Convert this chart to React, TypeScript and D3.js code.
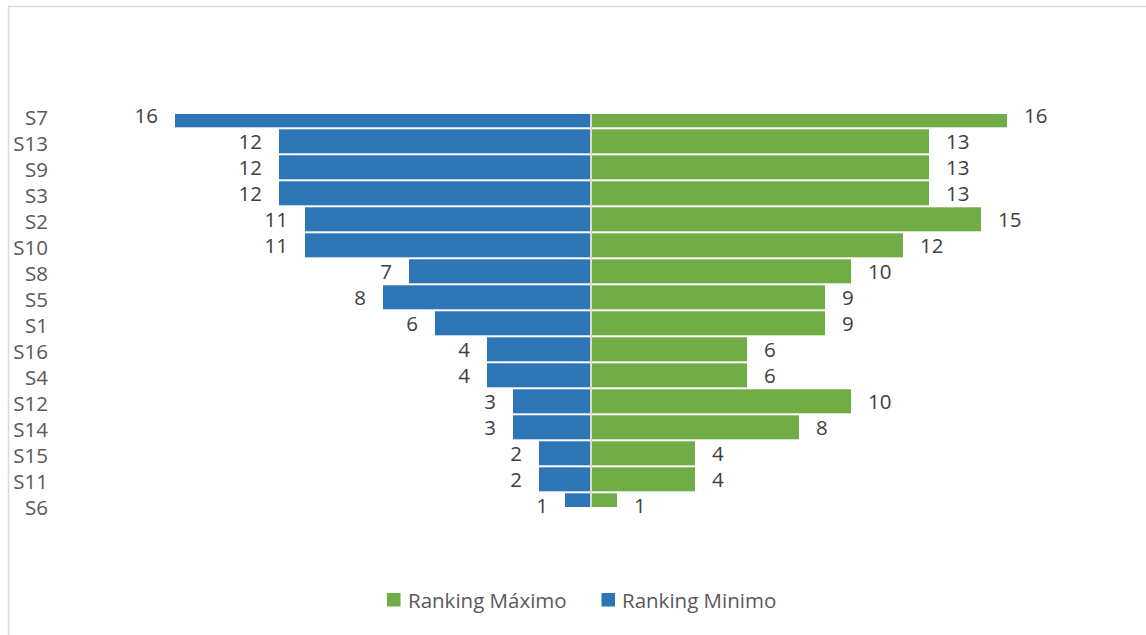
import React from "react";
import * as d3 from "d3";

const categories = ["S7", "S13", "S9", "S3", "S2", "S10", "S8", "S5", "S1", "S16", "S4", "S12", "S14", "S15", "S11", "S6"];
const rankingMinimo = [16, 12, 12, 12, 11, 11, 7, 8, 6, 4, 4, 3, 3, 2, 2, 1];
const rankingMaximo = [16, 13, 13, 13, 15, 12, 10, 9, 9, 6, 6, 10, 8, 4, 4, 1];
const legendLabels = ["Ranking Máximo", "Ranking Minimo"];

const W = 1146;
const H = 635;
const BLUE = "#2E75B6";
const GREEN = "#70AD47";
const FONT = "'Open Sans', sans-serif";

export default function App() {
  const x = d3.scaleLinear().domain([-16, 16]).range([175, 1007]);
  const y = d3
    .scaleBand<string>()
    .domain(categories)
    .range([102.3, 518.3])
    .paddingInner(2 / 26)
    .paddingOuter(1 / 26);
  const bw = y.bandwidth();
  const clipTop = 114;
  const clipBottom = 507;

  return (
    <svg
      width={W}
      height={H}
      style={{ position: "absolute", left: 0, top: 0, background: "#fff" }}
    >
      <defs>
        <clipPath id="plotClip">
          <rect x={0} y={clipTop} width={W} height={clipBottom - clipTop} />
        </clipPath>
      </defs>
      <rect x={8.5} y={6.5} width={W + 20} height={H + 20} fill="#fff" stroke="#d9d9d9" strokeWidth={1.5} />

      <g clipPath="url(#plotClip)">
        {categories.map((c, i) => (
          <g key={c}>
            <rect
              x={x(-rankingMinimo[i])}
              y={y(c)}
              width={x(0) - x(-rankingMinimo[i])}
              height={bw}
              fill={BLUE}
            />
            <rect
              x={x(0)}
              y={y(c)}
              width={x(rankingMaximo[i]) - x(0)}
              height={bw}
              fill={GREEN}
            />
          </g>
        ))}
        <line x1={x(0)} x2={x(0)} y1={clipTop} y2={clipBottom} stroke="#d9d9d9" strokeWidth={2} />
      </g>

      {categories.map((c, i) => {
        const cy = (y(c) as number) + bw / 2;
        return (
          <g key={"lab" + c} fontFamily={FONT} fontSize={20.5}>
            <text x={48} y={cy + 1.5} textAnchor="end" dominantBaseline="central" fill="#595959">
              {c}
            </text>
            <text
              x={x(-rankingMinimo[i]) - 17}
              y={cy}
              textAnchor="end"
              dominantBaseline="central"
              fill="#404040"
            >
              {rankingMinimo[i]}
            </text>
            <text
              x={x(rankingMaximo[i]) + 17}
              y={cy}
              textAnchor="start"
              dominantBaseline="central"
              fill="#404040"
            >
              {rankingMaximo[i]}
            </text>
          </g>
        );
      })}

      <g fontFamily={FONT} fontSize={20.5} fill="#595959">
        <rect x={387} y={593} width={13.5} height={13.5} fill={GREEN} />
        <text x={408} y={608}>{legendLabels[0]}</text>
        <rect x={601.5} y={593} width={13.5} height={13.5} fill={BLUE} />
        <text x={622} y={608}>{legendLabels[1]}</text>
      </g>
    </svg>
  );
}
